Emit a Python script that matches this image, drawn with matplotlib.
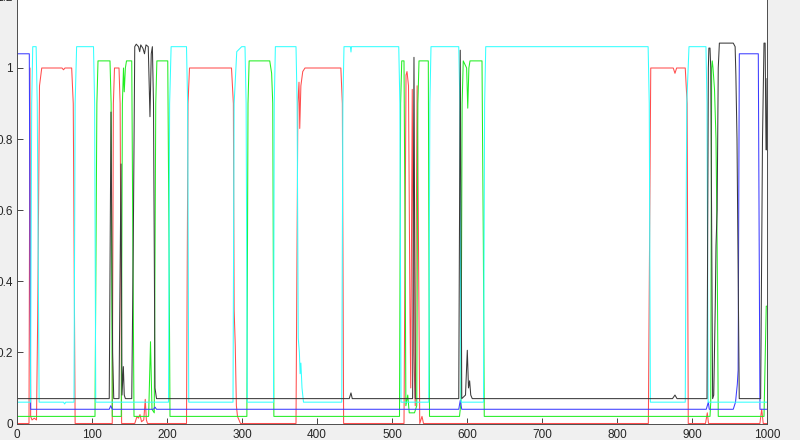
import matplotlib
matplotlib.use("Agg")
import matplotlib.pyplot as plt

# 数据: 每条曲线的折点 (x, y)
blue_x = [0, 16.4, 18.2, 123, 125, 127, 182, 184, 186, 589, 591, 593,
          919, 921.8, 923, 955, 958, 960.4, 961.5, 963.1, 988.4, 990.6, 1000]
blue_y = [1.04, 1.04, 0.04, 0.04, 0.05, 0.04, 0.04, 0.046, 0.04, 0.04, 0.065, 0.04,
          0.04, 0.06, 0.04, 0.04, 0.06, 0.11, 0.15, 1.04, 1.04, 0.04, 0.04]

red_x = [0, 16, 17.3, 18.2, 20, 23, 26, 27.6, 30, 33, 60, 62, 64, 72.9, 75, 77.5,
         127, 128.5, 130, 136, 137.5, 139.5, 157, 160, 162, 164, 166, 169, 171, 172.5, 174,
         226, 228, 230, 286, 288.5, 289.5, 291, 292.5, 294, 296, 298,
         372, 374.5, 376, 377, 378.5, 381, 384, 431.8, 433.8, 435.5,
         516, 518.7, 520, 522, 524, 525, 527, 529, 531, 533.5, 535, 537, 540, 542,
         841.8, 845, 875, 877.3, 879.5, 891, 893.5, 895,
         918, 920.4, 922, 990.5, 992.9, 995, 1000]
red_y = [0, 0, 1.0, 0.02, 0.01, 0.015, 0.01, 0.3, 0.95, 1.0, 1.0, 0.995, 1.0, 1.0, 0.9, 0,
         0, 0.9, 1.0, 1.0, 0.9, 0, 0, 0.02, 0.015, 0.025, 0.005, 0.01, 0.068, 0.01, 0,
         0, 0.9, 1.0, 1.0, 0.9, 0.32, 0.22, 0.05, 0.02, 0.01, 0,
         0, 0.9, 0.96, 0.83, 0.95, 0.99, 1.0, 1.0, 0.9, 0,
         0, 0.98, 0.99, 0.95, 0.3, 0.1, 0.94, 0.2, 0.05, 0.95, 0.6, 0, 0.02, 0,
         0, 1.0, 1.0, 0.985, 1.0, 1.0, 0.9, 0,
         0, 0.03, 0, 0, 0.04, 0, 0]

green_x = [0, 104, 106.5, 108, 124, 125.5, 127, 139, 140.5, 142, 143, 144.5, 146, 153, 154.5, 156,
           175.5, 178, 180, 183, 185, 186.5, 201, 202.7, 204,
           306.5, 308, 309.5, 337, 339.5, 341, 342.5,
           510, 511.5, 513, 516, 517.5, 518.5, 521, 523, 530, 533, 534.5, 536, 548.4, 550,
           590, 592, 593.5, 595, 599.5, 601, 602.5, 604, 620, 621.8, 623,
           924, 925, 926.2, 927, 928, 930, 932, 933.5, 935, 996, 999, 1000]
green_y = [0.02, 0.02, 0.9, 1.02, 1.02, 0.9, 0.02, 0.02, 0.9, 1.0, 0.933, 1.0, 1.02, 1.02, 0.5, 0.02,
           0.02, 0.23, 0.04, 0.03, 0.9, 1.02, 1.02, 0.5, 0.02,
           0.02, 0.9, 1.02, 1.02, 0.985, 0.9, 0.02,
           0.02, 0.9, 1.02, 1.02, 0.5, 0.05, 0.08, 0.03, 0.03, 0.05, 0.9, 1.02, 1.02, 0.02,
           0.02, 0.06, 0.9, 1.02, 1.0, 0.887, 1.0, 1.02, 1.02, 0.5, 0.02,
           0.02, 0.06, 1.0, 1.02, 1.0, 0.94, 0.8, 0.5, 0.02, 0.02, 0.33, 0.33]

cyan_x = [0, 18, 19.6, 21, 25.5, 27, 29.5, 62, 63.5, 65, 76, 77.5, 79.5, 102, 103.5, 105,
          202, 203.5, 205.5, 226, 227.5, 229, 288, 289.5, 293, 299.6, 304, 305.5, 307,
          342, 343, 344.5, 372, 373.5, 375, 376.5, 377.5, 378.5, 380, 382,
          433, 434.5, 436, 444.5, 445.3, 446, 509, 510.5, 512,
          549, 550.5, 552, 589, 590.5, 592, 622, 623.5, 625, 841.5, 843, 844.5,
          891, 893, 896, 918.6, 920, 921.5, 1000]
cyan_y = [0.06, 0.06, 0.9, 1.06, 1.06, 0.9, 0.06, 0.06, 0.055, 0.06, 0.06, 0.9, 1.06, 1.06, 0.9, 0.06,
          0.06, 0.9, 1.06, 1.06, 0.9, 0.06, 0.06, 0.9, 1.046, 1.06, 1.06, 0.9, 0.06,
          0.06, 0.9, 1.06, 1.06, 0.9, 0.24, 0.2, 0.14, 0.17, 0.1, 0.06,
          0.06, 0.9, 1.06, 1.06, 1.045, 1.06, 1.06, 0.9, 0.06,
          0.06, 0.9, 1.06, 1.06, 0.9, 0.06, 0.06, 0.9, 1.06, 1.06, 0.9, 0.06,
          0.06, 0.9, 1.06, 1.06, 0.9, 0.06, 0.06]

black_x = [0, 123, 125.3, 127.5, 129, 136, 138.7, 140, 141.8, 143, 144.5, 153, 155, 157, 159,
           162, 163.6, 165, 168, 170, 172, 175, 177.3, 179, 180.5, 182, 184, 186,
           443, 445.3, 447, 527.5, 529.3, 531, 589, 591, 593, 598, 600.4, 602, 603.5, 605, 607,
           874, 877.3, 880, 920, 921.8, 922.5, 924, 925, 927.5, 929, 931, 932, 933.5, 935, 936.5,
           955, 957.5, 958.5, 960, 963, 991.5, 994, 996, 997.5, 998.7, 999.5, 1000]
black_y = [0.07, 0.07, 0.876, 0.2, 0.07, 0.07, 0.73, 0.08, 0.16, 0.08, 0.07, 0.07, 0.5, 1.06, 1.067,
           1.06, 1.046, 1.065, 1.055, 1.04, 1.065, 1.06, 0.863, 1.04, 1.06, 0.9, 0.1, 0.07,
           0.07, 0.086, 0.07, 0.07, 1.03, 0.07, 0.07, 1.05, 0.07, 0.08, 0.206, 0.1, 0.12, 0.08, 0.07,
           0.07, 0.08, 0.07, 0.07, 1.0, 1.056, 1.056, 1.0, 0.07, 0.08, 0.33, 0.5, 0.6, 1.0, 1.07,
           1.07, 1.06, 0.98, 0.8, 0.07, 0.07, 0.8, 1.07, 1.07, 0.77, 0.77, 0.97]

fig = plt.figure(figsize=(8, 4.4), dpi=100, facecolor="#f0f0f0")
ax = fig.add_axes([17 / 800, 16.5 / 440, 750 / 800, 426.6 / 440])
ax.set_facecolor("white")

lw = 0.75
ax.plot(red_x, red_y, color="#ff4d4d", lw=lw)
ax.plot(green_x, green_y, color="#22ee22", lw=lw)
ax.plot(blue_x, blue_y, color="#3c3cff", lw=lw)
ax.plot(cyan_x, cyan_y, color="#33ffff", lw=lw)
ax.plot(black_x, black_y, color="#3a3a3a", lw=lw)

ax.set_xlim(0, 1000)
ax.set_ylim(0, 1.2)
ax.set_xticks(range(0, 1001, 100))
ax.set_yticks([0, 0.2, 0.4, 0.6, 0.8, 1, 1.2])
ax.set_yticklabels(["0", "0.2", "0.4", "0.6", "0.8", "1", "1.2"])

for s in ax.spines.values():
    s.set_color("#4d4d4d")
    s.set_linewidth(0.7)
ax.tick_params(direction="in", length=4.5, width=0.6, colors="#262626",
               labelsize=8.5, labelfontfamily="Liberation Sans")
ax.tick_params(axis="x", pad=4)
ax.tick_params(axis="y", pad=3)

fig.savefig("out.png", dpi=100, facecolor=fig.get_facecolor())
